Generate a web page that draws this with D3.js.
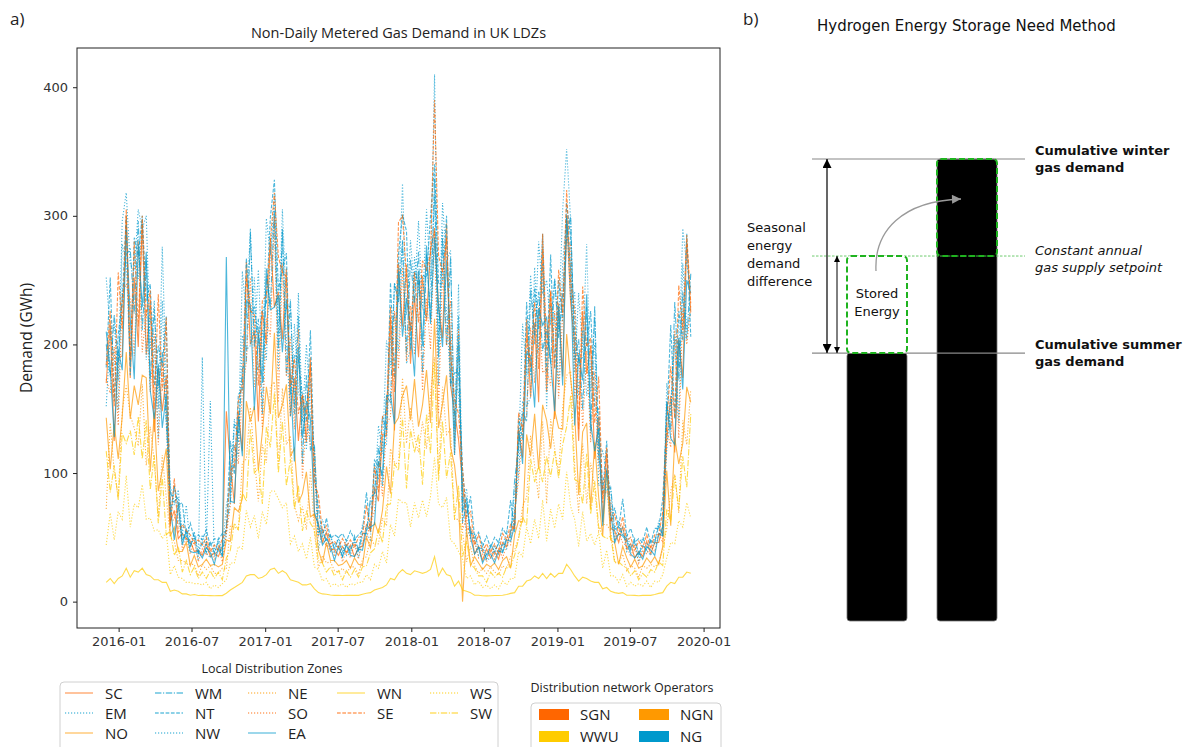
<!DOCTYPE html>
<html>
<head>
<meta charset="utf-8">
<script src="https://cdn.jsdelivr.net/npm/d3@7"></script>
<style>
body { margin: 0; background: #fff; }
svg { display: block; }
</style>
</head>
<body>
<svg id="fig" width="1204" height="747"></svg>
<script>
// NDM demand per LDZ (GWh), every 10 days from startDate
var startDate = "2015-12-01", stepDays = 10;

var SC = [170,216,125,190,191,300,174,252,198,295, 192,234,132,182,148,176,62,71,49,53, 49,47,39,40,36,46,35,38,35,43,
  148,107,76,148,117,264,200,210,140,226, 200,283,229,241,204,259,144,174,125,160, 124,190,67,61,46,54,40,41,36,43,
  38,44,35,42,43,60,56,89,78,130, 129,221,133,263,214,262,185,238,190,253, 218,274,289,230,205,294,168,148,126,92,
  56,58,37,43,32,41,34,39,33,46, 43,55,59,135,112,220,159,217,155,274, 163,242,142,232,175,300,232,200,125,226,
  177,199,111,144,62,116,57,55,46,59, 41,45,34,39,35,47,37,46,46,59, 125,160,116,204,174,280,225];
var EM = [152,208,191,149,278,264,185,272,251,294, 188,220,204,127,234,138,60,90,63,51, 48,45,49,32,190,38,34,42,39,41,
  51,99,121,113,207,196,199,252,180,212, 188,270,300,180,290,202,144,216,163,152, 118,173,107,40,56,46,39,45,41,41,
  36,42,46,34,52,53,48,107,95,124, 122,204,224,195,280,185,197,268,242,228, 221,244,315,168,289,225,168,170,163,86,
  50,57,47,36,41,33,33,43,37,45, 41,54,71,100,155,152,159,260,194,263, 150,229,223,168,263,300,234,241,160,211,
  160,182,200,90,96,90,56,60,51,58, 39,44,44,31,44,40,36,50,51,58, 118,155,204,139,263,212,224];
var NO = [143,103,138,111,144,194,142,168,153,176, 174,101,147,86,102,119,51,58,39,39, 46,28,36,27,29,33,28,29,27,29,
  48,47,73,70,80,156,140,152,102,132, 167,146,209,143,153,169,113,119,77,84, 101,66,68,40,30,46,32,32,28,29,
  32,26,34,29,28,50,42,62,53,71, 105,84,138,143,160,168,141,173,136,153, 180,139,220,135,154,176,120,106,77,0,
  56,28,35,30,25,29,27,30,25,32, 35,26,52,63,62,130,113,146,103,153, 141,119,149,135,134,208,173,146,83,132,
  139,72,124,81,51,102,48,46,29,43, 34,27,33,26,28,34,30,35,29,43, 102,59,127,107,123,167,155];
var WM = [200,175,223,186,236,270,274,224,296,211, 265,173,228,166,194,140,85,78,81,46, 57,42,54,38,46,38,46,38,47,35,
  60,78,138,131,181,187,287,198,220,146, 253,229,305,197,288,176,235,146,222,107, 176,118,122,54,56,47,52,41,49,35,
  45,38,51,40,53,53,81,84,121,90, 160,155,248,233,281,192,266,232,272,178, 270,218,329,190,283,199,268,134,222,61,
  77,53,53,42,41,33,45,39,45,39, 50,50,94,121,147,140,243,207,241,195, 212,185,251,205,239,284,300,188,204,149,
  229,131,230,115,88,87,89,56,59,52, 49,40,49,37,44,40,48,46,59,52, 156,133,233,172,241,204,255];
var NT = [182,252,156,208,233,300,176,283,269,300, 234,247,168,199,183,222,67,90,75,77, 50,61,49,52,48,56,43,49,48,53,
  55,125,99,161,165,267,225,229,205,226, 232,299,328,242,258,271,161,192,189,160, 140,211,98,73,50,65,49,52,50,53,
  47,55,48,52,55,85,54,110,105,144, 133,248,174,270,301,288,196,257,246,254, 252,300,340,247,248,300,169,178,178,103,
  66,82,50,54,43,51,42,50,46,57, 52,79,54,143,126,233,176,244,212,286, 178,270,181,250,218,310,283,208,187,190,
  199,226,152,150,84,125,62,73,57,80, 51,57,46,49,46,58,45,57,57,80, 140,215,142,226,203,286,206];
var NW = [252,210,216,172,296,318,262,258,305,290, 300,196,234,150,276,169,90,75,87,52, 75,43,52,37,52,42,156,35,49,39,
  75,90,142,124,257,221,290,202,258,180, 298,270,315,210,305,228,230,153,240,140, 200,150,118,51,64,52,51,39,51,39,
  49,40,48,39,60,56,77,83,137,115, 203,182,247,233,325,223,281,240,296,228, 305,250,410,196,310,265,273,125,247,77,
  88,49,50,41,46,36,43,37,47,43, 55,54,84,116,216,176,254,200,280,239, 250,215,251,212,305,352,296,178,240,194,
  278,163,221,110,117,101,87,46,63,51, 53,42,46,35,50,44,47,45,63,51, 170,144,208,182,290,262,243];
var NE = [72,139,101,81,149,168,145,135,121,169, 106,136,109,66,114,81,50,47,32,32, 30,29,29,20,29,25,28,22,22,26,
  25,59,58,56,108,111,151,111,78,122, 108,167,171,107,166,122,129,75,63,74, 56,103,54,26,36,30,31,24,23,26,
  22,27,27,21,33,35,50,44,45,65, 59,119,108,107,174,123,151,128,116,140, 119,161,190,99,167,130,134,64,64,54,
  31,43,28,22,26,22,27,23,21,28, 25,35,40,50,74,81,129,106,80,140, 76,142,119,100,151,176,179,106,69,123,
  76,108,88,55,60,60,55,31,30,37, 24,28,26,19,28,26,29,27,30,41, 57,86,99,69,141,122,165];
var SO = [173,162,198,137,239,247,236,191,280,194, 227,163,208,122,185,147,62,64,77,40, 50,37,48,31,41,36,41,32,43,31,
  53,74,122,107,164,186,252,167,211,134, 220,206,300,155,263,175,206,134,212,96, 144,121,117,51,50,43,46,35,44,31,
  40,34,45,33,47,49,61,70,109,82, 138,144,226,181,260,187,230,192,256,164, 236,196,291,146,260,199,234,114,212,56,
  65,47,47,34,37,31,40,33,41,34, 44,44,69,95,135,146,213,170,230,178, 181,168,226,158,224,281,277,158,194,136,
  195,124,179,107,82,86,78,48,53,46, 43,35,44,30,40,37,43,39,53,46, 134,120,211,127,226,200,230];
var EA = [210,181,128,196,180,292,220,173,278,229, 272,164,142,185,135,161,74,48,76,44, 55,39,38,39,34,42,38,29,42,35,
  268,78,77,144,113,234,231,149,208,170, 259,227,229,238,194,235,176,109,198,127, 156,142,70,59,44,49,43,32,43,35,
  44,36,35,41,40,56,58,60,109,98, 160,161,138,257,206,236,214,175,257,199, 277,216,283,228,198,265,202,114,203,70,
  81,50,37,42,30,37,37,30,40,38, 48,47,59,133,107,194,191,151,228,215, 221,187,148,230,168,300,258,137,192,172,
  239,139,117,135,59,103,69,46,53,51, 47,37,34,38,33,43,40,36,53,51, 155,127,122,205,165,250,240];
var WN = [15,18,14,18,20,26,19,24,23,26, 21,20,17,17,15,15,8,9,8,6, 6,5,5.5,4.8,5,4.8,4.7,4.6,4.8,4.7,
  6.5,9,11,13,15,20,21,21,18,19, 21,25,26,22,24,22,17,16,15,13, 13,14,10,7,6,5.8,5.2,4.9,5,4.8,
  4.9,4.9,5,4.9,5.8,6.5,7,9,10,11, 13,18,17,22,25,22,21,24,23,22, 23,25,35,20,26,21,20,12,16,9,
  8,7,5,5,4.6,4.5,4.6,4.8,4.8,5, 5.6,6.4,7,12,12,16,17,20,18,22, 18,22,19,22,22,29,25,20,16,19,
  18,16,15,15,10,11,8,7,6.4,7, 5,5,4.9,4.6,4.9,5,4.9,5.6,6.4,7, 12,15,14,19,19,23,22];
var SE = [184,226,152,256,212,305,188,280,214,300, 222,242,150,239,164,221,58,96,54,60, 55,52,45,48,44,50,39,44,40,49,
  55,102,105,156,169,252,226,223,168,234, 238,281,318,268,256,253,167,189,146,161, 146,185,92,83,54,59,45,47,42,49,
  43,48,42,50,51,75,54,105,85,144, 146,229,163,295,300,252,210,256,217,265, 258,270,390,269,256,283,194,157,146,103,
  66,70,44,52,39,45,38,45,38,53, 48,60,56,147,133,207,182,233,181,286, 196,241,182,258,224,320,248,227,134,245,
  198,205,139,175,77,120,62,68,52,66, 47,50,40,47,42,52,41,52,52,70, 140,183,143,246,211,285,232];
var WS = [44,69,48,70,64,98,58,76,73,91, 64,65,55,56,49,54,21,28,19,18, 15,15,14,14,13,15,10,13,11,14,
  17,30,30,43,41,71,58,67,49,70, 60,86,86,80,73,77,45,51,39,45, 33,50,27,25,16,18,12,14,12,14,
  11,14,13,15,15,21,17,29,26,39, 30,60,51,80,77,77,58,77,65,79, 66,82,112,76,73,81,48,45,39,33,
  18,20,13,16,11,13,10,13,10,16, 13,18,18,39,35,58,45,64,49,79, 47,72,57,76,64,101,74,64,43,70,
  47,53,44,54,26,40,20,20,15,21, 12,15,12,14,12,16,11,16,15,21, 34,46,45,63,58,77,65];
var SW = [117,85,106,79,131,123,133,114,144,111, 141,87,114,61,97,52,55,36,43,23, 32,21,27,18,23,18,24,18,23,17,
  34,40,61,56,85,78,134,100,104,76, 136,120,162,100,140,90,111,72,90,55, 70,61,56,32,30,23,27,20,24,17,
  24,19,25,19,27,28,38,41,56,46, 75,76,107,102,143,88,134,116,130,91, 146,115,186,94,140,96,116,64,90,35,
  47,29,26,20,20,15,23,19,22,19, 27,27,36,49,66,59,111,93,106,93, 113,97,117,96,122,136,160,95,93,76,
  115,68,94,58,51,49,51,30,31,28, 26,20,24,17,22,19,25,23,31,28, 72,62,98,72,113,89,146];

var ldzNames = ["SC","EM","NO","WM","NT","NW","NE","SO","EA","WN","SE","WS","SW"];
var ldzOperators = ["SGN","NG","NGN","NG","NG","NG","NGN","SGN","NG","WWU","SGN","WWU","WWU"];
var operatorNames = ["SGN","NGN","WWU","NG"];
var xTickLabels = ["2016-01","2016-07","2017-01","2017-07","2018-01","2018-07","2019-01","2019-07","2020-01"];
var yTickValues = [0,100,200,300,400];

// panel b: cumulative seasonal demand (relative units)
var seasonNames = ["summer","winter"];
var seasonDemand = [58, 100];

var ldzData = {SC:SC, EM:EM, NO:NO, WM:WM, NT:NT, NW:NW, NE:NE, SO:SO, EA:EA, WN:WN, SE:SE, WS:WS, SW:SW};
var ldzDash = {SC:"solid", EM:"dotted", NO:"solid", WM:"dashdot", NT:"dashed", NW:"dotted",
  NE:"dotted", SO:"dotted", EA:"solid", WN:"solid", SE:"dashed", WS:"dotted", SW:"dashdot"};
var dashArray = {solid:null, dotted:"1.2,1.8", dashed:"3.7,1.6", dashdot:"6.4,1.6,1.2,1.6"};
var opColor = {SGN:"#ff6600", NGN:"#ff9900", WWU:"#ffcc00", NG:"#0099cc"};

var svg = d3.select("#fig");
svg.append("rect").attr("width",1204).attr("height",747).attr("fill","#fff");

var defs = svg.append("defs");
function marker(id, w, l, col) {
  defs.append("marker").attr("id", id)
    .attr("viewBox","0 0 10 10").attr("refX",10).attr("refY",5)
    .attr("markerUnits","userSpaceOnUse")
    .attr("markerWidth", l).attr("markerHeight", w)
    .attr("orient","auto-start-reverse")
    .append("path").attr("d","M0,0L10,5L0,10Z").attr("fill", col);
}
marker("headBig", 9, 13, "#000");
marker("headSmall", 6, 9, "#000");
marker("headGray", 9, 11, "#999");

// ---------- panel a ----------
var pa = {left:77, right:720, top:48, bottom:628};
var t0 = d3.utcParse("%Y-%m-%d")(startDate);
var series = ldzNames.map(function(n, i) {
  return {name:n, op:ldzOperators[i], values:ldzData[n].map(function(v, k) {
    return {date:d3.utcDay.offset(t0, k*stepDays), value:v};
  })};
});

var allPts = d3.merge(series.map(function(s){ return s.values; }));
var tExt = d3.extent(allPts, function(d){ return d.date; });
var tSpan = (tExt[1] - tExt[0]) * 0.05;
var x = d3.scaleUtc()
  .domain([new Date(+tExt[0] - tSpan), new Date(+tExt[1] + tSpan)])
  .range([pa.left, pa.right]);
var yMin = 0, yMax = d3.max(allPts, function(d){ return d.value; });
var yPad = (yMax - yMin) * 0.05;
var y = d3.scaleLinear().domain([yMin - yPad, yMax + yPad]).range([pa.bottom, pa.top]);

var line = d3.line().x(function(d){ return x(d.date); }).y(function(d){ return y(d.value); });

svg.append("g").selectAll("path").data(series).join("path")
  .attr("d", function(d){ return line(d.values); })
  .attr("fill","none")
  .attr("stroke", function(d){ return opColor[d.op]; })
  .attr("stroke-width", 1.1)
  .attr("stroke-opacity", 0.7)
  .attr("stroke-dasharray", function(d){ return dashArray[ldzDash[d.name]]; });

svg.append("rect")
  .attr("x", pa.left).attr("y", pa.top)
  .attr("width", pa.right - pa.left).attr("height", pa.bottom - pa.top)
  .attr("fill","none").attr("stroke","#222").attr("stroke-width",1);

var parseTick = d3.utcParse("%Y-%m");
var xAxis = svg.append("g").attr("transform","translate(0," + pa.bottom + ")")
  .call(d3.axisBottom(x).tickValues(xTickLabels.map(parseTick))
    .tickFormat(d3.utcFormat("%Y-%m")).tickSize(4).tickSizeOuter(0).tickPadding(5));
var yAxis = svg.append("g").attr("transform","translate(" + pa.left + ",0)")
  .call(d3.axisLeft(y).tickValues(yTickValues).tickSize(4).tickSizeOuter(0).tickPadding(5));
[xAxis, yAxis].forEach(function(g) {
  g.select(".domain").remove();
  g.selectAll("line").attr("stroke","#222");
  g.selectAll("text").attr("fill","#333")
    .style("font-family","'DejaVu Sans'").style("font-size","13px");
});

svg.append("text").attr("x",10).attr("y",25)
  .style("font-family","'Open Sans'").style("font-size","17px").attr("fill","#222").text("a)");
svg.append("text").attr("x",(pa.left + pa.right)/2).attr("y",38).attr("text-anchor","middle")
  .style("font-family","'Open Sans'").style("font-size","14.5px").attr("fill","#222")
  .text("Non-Daily Metered Gas Demand in UK LDZs");
svg.append("text").attr("transform","translate(32," + (pa.top + pa.bottom)/2 + ") rotate(-90)")
  .attr("text-anchor","middle")
  .style("font-family","'Open Sans'").style("font-size","15.5px").attr("fill","#222")
  .text("Demand (GWh)");

// LDZ legend (column-major, 5 columns)
svg.append("text").attr("x",272).attr("y",673).attr("text-anchor","middle")
  .style("font-family","'Open Sans'").style("font-size","12.5px").attr("fill","#222")
  .text("Local Distribution Zones");
svg.append("rect").attr("x",60).attr("y",682).attr("width",438).attr("height",72).attr("rx",4)
  .attr("fill","#fff").attr("stroke","#d0d0d0");
var colX = [65, 155, 248, 337, 430], rowY = [693, 713, 733];
var perCol = [3,3,3,2,2];
var legItems = [], idx = 0;
perCol.forEach(function(n, c) {
  for (var r = 0; r < n; r++) { legItems.push({name:ldzNames[idx], op:ldzOperators[idx], c:c, r:r}); idx++; }
});
var leg = svg.append("g").selectAll("g").data(legItems).join("g")
  .attr("transform", function(d){ return "translate(" + colX[d.c] + "," + rowY[d.r] + ")"; });
leg.append("line").attr("x1",0).attr("x2",28)
  .attr("stroke", function(d){ return opColor[d.op]; })
  .attr("stroke-opacity",0.6).attr("stroke-width",1.3)
  .attr("stroke-dasharray", function(d){ return dashArray[ldzDash[d.name]]; });
leg.append("text").attr("x",40).attr("y",5.5)
  .style("font-family","'Open Sans'").style("font-size","15px").attr("fill","#222")
  .text(function(d){ return d.name; });

// operator legend
svg.append("text").attr("x",622).attr("y",692).attr("text-anchor","middle")
  .style("font-family","'Open Sans'").style("font-size","12.5px").attr("fill","#222")
  .text("Distribution network Operators");
svg.append("rect").attr("x",531).attr("y",703).attr("width",190).attr("height",52).attr("rx",4)
  .attr("fill","#fff").attr("stroke","#d0d0d0");
var opLeg = svg.append("g").selectAll("g").data(operatorNames).join("g")
  .attr("transform", function(d, i){ return "translate(" + [539, 639][i % 2] + "," + [709, 731][Math.floor(i/2)] + ")"; });
opLeg.append("rect").attr("width",30).attr("height",11).attr("fill", function(d){ return opColor[d]; });
opLeg.append("text").attr("x",41).attr("y",11)
  .style("font-family","'Open Sans'").style("font-size","15px").attr("fill","#222")
  .text(function(d){ return d; });

// ---------- panel b ----------
var xb = d3.scaleBand().domain(seasonNames).range([847, 997]).paddingInner(1/3).paddingOuter(0);
var yb = d3.scaleLinear().domain([0, d3.max(seasonDemand)]).range([621, 159]);
var setpoint = d3.mean(seasonDemand);
var ySum = yb(seasonDemand[0]), yWin = yb(seasonDemand[1]), ySet = yb(setpoint);
var lineL = xb("summer") - 35, lineR = xb("winter") + xb.bandwidth() + 28;
var bw = xb.bandwidth();

svg.append("g").selectAll("rect").data(seasonNames).join("rect")
  .attr("x", function(d){ return xb(d); })
  .attr("y", function(d, i){ return yb(seasonDemand[i]); })
  .attr("width", bw)
  .attr("height", function(d, i){ return yb(0) - yb(seasonDemand[i]); })
  .attr("rx",3).attr("fill","#000").attr("stroke","#777").attr("stroke-width",0.8);

[yWin, ySum].forEach(function(yy) {
  svg.append("line").attr("x1",lineL).attr("x2",lineR).attr("y1",yy).attr("y2",yy)
    .attr("stroke","#888").attr("stroke-width",1.2);
});
svg.append("line").attr("x1",lineL).attr("x2",lineR).attr("y1",ySet).attr("y2",ySet)
  .attr("stroke","#5cc45c").attr("stroke-width",0.9).attr("stroke-dasharray","2.5,1.5");

svg.append("rect").attr("x",xb("summer")).attr("y",ySet).attr("width",bw).attr("height",ySum - ySet)
  .attr("rx",4).attr("fill","#fff").attr("stroke","#1fb31f").attr("stroke-width",2).attr("stroke-dasharray","6,3");
svg.append("rect").attr("x",xb("winter")).attr("y",yWin).attr("width",bw).attr("height",ySet - yWin)
  .attr("rx",4).attr("fill","none").attr("stroke","#1fb31f").attr("stroke-width",2).attr("stroke-dasharray","6,3");

svg.append("line").attr("x1",lineL+15).attr("x2",lineL+15).attr("y1",yWin).attr("y2",ySum)
  .attr("stroke","#000").attr("stroke-width",1.2)
  .attr("marker-start","url(#headBig)").attr("marker-end","url(#headBig)");
svg.append("line").attr("x1",lineL+25).attr("x2",lineL+25).attr("y1",ySet).attr("y2",ySum)
  .attr("stroke","#000").attr("stroke-width",1)
  .attr("marker-start","url(#headSmall)").attr("marker-end","url(#headSmall)");

var cx = xb("summer") + bw/2;
svg.append("path")
  .attr("d","M" + (cx - 1) + "," + (ySet + 15) + " C" + (cx - 3) + "," + (ySet - 25) + " " +
    (cx + 25) + "," + (yWin + 42) + " " + (xb("winter") + bw/2 - 6) + "," + (yWin + 40))
  .attr("fill","none").attr("stroke","#999").attr("stroke-width",1.3)
  .attr("marker-end","url(#headGray)");

function txt(xx, yy, s, opt) {
  opt = opt || {};
  return svg.append("text").attr("x",xx).attr("y",yy).attr("text-anchor", opt.anchor || "start")
    .style("font-family","'DejaVu Sans'").style("font-size",(opt.size || 13) + "px")
    .style("font-weight", opt.bold ? "bold" : "normal")
    .style("font-style", opt.italic ? "italic" : "normal")
    .attr("fill","#111").text(s);
}
svg.append("text").attr("x",743).attr("y",25)
  .style("font-family","'Open Sans'").style("font-size","17px").attr("fill","#222").text("b)");
txt(817, 31, "Hydrogen Energy Storage Need Method", {size:15});
["Seasonal","energy","demand","difference"].forEach(function(s, i){ txt(747, 232 + i*18, s); });
txt(cx, 298, "Stored", {anchor:"middle"});
txt(cx, 316, "Energy", {anchor:"middle"});
txt(1035, yWin - 4, "Cumulative winter", {bold:true});
txt(1035, yWin + 13, "gas demand", {bold:true});
txt(1035, ySet - 1, "Constant annual", {italic:true});
txt(1035, ySet + 16, "gas supply setpoint", {italic:true});
txt(1035, ySum - 4, "Cumulative summer", {bold:true});
txt(1035, ySum + 13, "gas demand", {bold:true});
</script>
</body>
</html>
